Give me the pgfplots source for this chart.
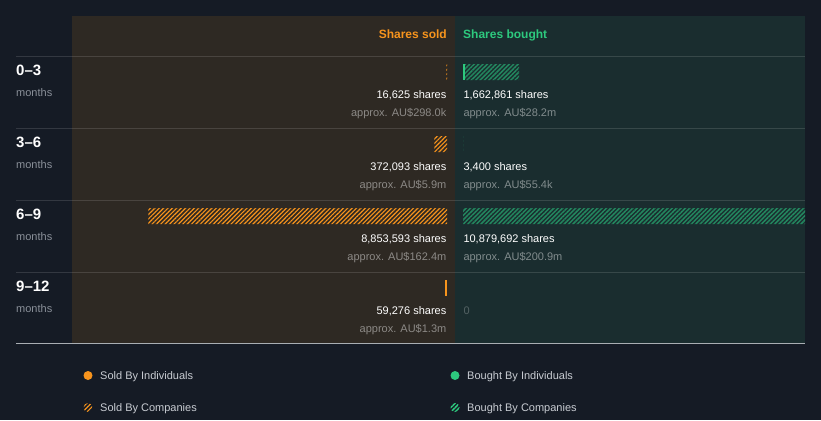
\documentclass[border=0pt]{standalone}
\usepackage{pgfplots}
\pgfplotsset{compat=1.18}
\usetikzlibrary{patterns.meta}
\usepackage{fontspec}
\setmainfont{Liberation Sans}

\definecolor{bg}{HTML}{151B25}
\definecolor{soldbg}{HTML}{2E2923}
\definecolor{boughtbg}{HTML}{1A2D2F}
\definecolor{orangeC}{HTML}{F7941D}
\definecolor{greenC}{HTML}{2DC97E}
\definecolor{greenH}{HTML}{23875F}
\definecolor{monthsgray}{HTML}{8A9099}
\definecolor{legendtxt}{HTML}{C8CCD2}
\definecolor{bottomline}{HTML}{A9AEB3}

\newcommand\txt[1]{\fontsize{#1}{#1}\selectfont}
\tikzset{
  hatch/.style={pattern={Lines[angle=45,distance=3.1pt,line width=1.15pt]}},
  hatchg/.style={pattern={Lines[angle=45,distance=3.1pt,line width=1.5pt]}},
  val/.style={text=white,font=\txt{11}},
  apx/.style={text=white,text opacity=0.45,font=\txt{11}},
}

\begin{document}
\begin{tikzpicture}[x=1pt,y=-1pt]
% panels
\fill[bg] (0,0) rectangle (821,420);
\fill[soldbg] (72,16) rectangle (455.3,343);
\fill[boughtbg] (455.3,16) rectangle (805,343);
\foreach \yy in {56.7,128.3,200.5,272.3}
  \draw[white,opacity=0.13,line width=1pt] (16,\yy) -- (805,\yy);

% shares sold (bars grow to the left)
\begin{axis}[at={(447pt,-16pt)}, anchor=north east,
  width=375pt, height=327pt, scale only axis, hide axis,
  xmin=0, xmax=11115000, x dir=reverse,
  ymin=16, ymax=343, y dir=reverse,
  xbar stacked, bar width=16pt]
\addplot[draw=none, fill=orangeC] coordinates {(0,72) (0,144) (0,216) (59276,288)};
\addplot[draw=none, hatch, pattern color=orangeC] coordinates {(16625,72) (372093,144) (8853593,216) (0,288)};
\end{axis}

% shares bought (bars grow to the right, clipped at the panel edge)
\begin{axis}[at={(463pt,-16pt)}, anchor=north west,
  width=342pt, height=327pt, scale only axis, hide axis,
  xmin=0, xmax=10136880,
  ymin=16, ymax=343, y dir=reverse,
  xbar stacked, bar width=16pt]
\addplot[draw=none, fill=greenC] coordinates {(59300,72) (0,144) (0,216) (0,288)};
\addplot[draw=none, hatchg, pattern color=greenH] coordinates {(1603561,72) (3400,144) (10879692,216) (0,288)};
\end{axis}

\draw[bottomline,line width=1pt] (16,343.3) -- (805,343.3);

% headers
\node[anchor=base east,inner sep=0,text=orangeC,font=\bfseries\txt{12}] at (447,38.8) {Shares sold};
\node[anchor=base west,inner sep=0,text=greenC,font=\bfseries\txt{12}] at (463,38.8) {Shares bought};

% row labels
\foreach \yc/\lab in {72/0--3,144/3--6,216/6--9,288/9--12}{
  \node[anchor=base west,inner sep=0,text=white,font=\bfseries\txt{15}] at (16,\yc+3.5) {\lab};
  \node[anchor=base west,inner sep=0,text=monthsgray,font=\txt{11}] at (16,\yc+24.7) {months};
}

% values
\foreach \yc/\ss/\sa/\bs/\ba in {
  72/16{,}625 shares/approx. AU\$298.0k/1{,}662{,}861 shares/approx. AU\$28.2m,
  144/372{,}093 shares/approx. AU\$5.9m/3{,}400 shares/approx. AU\$55.4k,
  216/8{,}853{,}593 shares/approx. AU\$162.4m/10{,}879{,}692 shares/approx. AU\$200.9m}{
  \node[anchor=base east,inner sep=0,val] at (446.5,\yc+26.4) {\ss};
  \node[anchor=base east,inner sep=0,apx] at (446.5,\yc+44.4) {\sa};
  \node[anchor=base west,inner sep=0,val] at (463.3,\yc+26.4) {\bs};
  \node[anchor=base west,inner sep=0,apx] at (463.3,\yc+44.4) {\ba};
}
\node[anchor=base east,inner sep=0,val] at (446.5,314.4) {59,276 shares};
\node[anchor=base east,inner sep=0,apx] at (446.5,332.4) {approx. AU\$1.3m};
\node[anchor=base west,inner sep=0,text=white,text opacity=0.25,font=\txt{11}] at (463.3,314.4) {0};

% legend
\fill[orangeC] (88,375.5) circle (4.5);
\path[hatch, pattern color=orangeC] (88,407.5) circle (4.5);
\fill[greenC] (455,375.5) circle (4.5);
\path[hatchg, pattern color=greenC] (455,407.5) circle (4.5);
\node[anchor=base west,inner sep=0,text=legendtxt,font=\txt{11}] at (100,379.5) {Sold By Individuals};
\node[anchor=base west,inner sep=0,text=legendtxt,font=\txt{11}] at (100,411.5) {Sold By Companies};
\node[anchor=base west,inner sep=0,text=legendtxt,font=\txt{11}] at (467,379.5) {Bought By Individuals};
\node[anchor=base west,inner sep=0,text=legendtxt,font=\txt{11}] at (467,411.5) {Bought By Companies};
\end{tikzpicture}
\end{document}
